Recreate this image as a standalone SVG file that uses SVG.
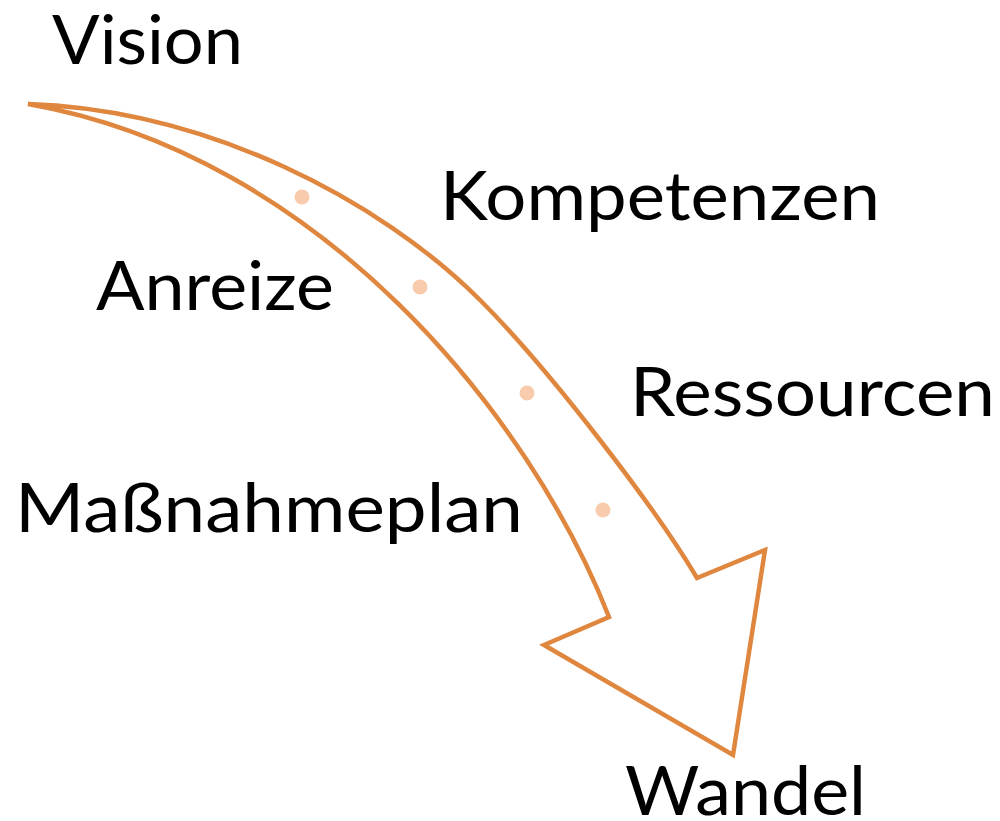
<svg xmlns="http://www.w3.org/2000/svg" width="1000" height="821" viewBox="0 0 1000 821">
<style>
.lbl{font-family:Lato,"Open Sans","Liberation Sans",sans-serif;font-size:67px;fill:#000}
.arrow{fill:none;stroke:#E0873F;stroke-width:4.5;stroke-linejoin:miter;stroke-linecap:round}
.dot{fill:#F8CBAD}
</style>
<rect width="1000" height="821" fill="#fff"/>
<g id="connectors">
<path id="arrow" class="arrow" d="M28,104 C208,110 380,200 480,300 C550,370 657,510 697,578 L765,550 L733,755 L544,645 L609,617 C530,415 320,155 28,104 Z"/>
</g>
<g id="dots">
<circle class="dot" cx="302" cy="197" r="7.5"/>
<circle class="dot" cx="420" cy="287" r="7.5"/>
<circle class="dot" cx="527" cy="393" r="7.5"/>
<circle class="dot" cx="603" cy="510" r="7.5"/>
</g>
<g id="n-vision"><text class="lbl" x="52" y="64" textLength="191" lengthAdjust="spacingAndGlyphs">Vision</text></g>
<g id="n-kompetenzen"><text class="lbl" x="440" y="220" textLength="440" lengthAdjust="spacingAndGlyphs">Kompetenzen</text></g>
<g id="n-anreize"><text class="lbl" x="96" y="310" textLength="238" lengthAdjust="spacingAndGlyphs">Anreize</text></g>
<g id="n-ressourcen"><text class="lbl" x="630" y="416" textLength="365" lengthAdjust="spacingAndGlyphs">Ressourcen</text></g>
<g id="n-massnahmeplan"><text class="lbl" x="15" y="532" textLength="508" lengthAdjust="spacingAndGlyphs">Maßnahmeplan</text></g>
<g id="n-wandel"><text class="lbl" x="625" y="815" textLength="241" lengthAdjust="spacingAndGlyphs">Wandel</text></g>
</svg>
